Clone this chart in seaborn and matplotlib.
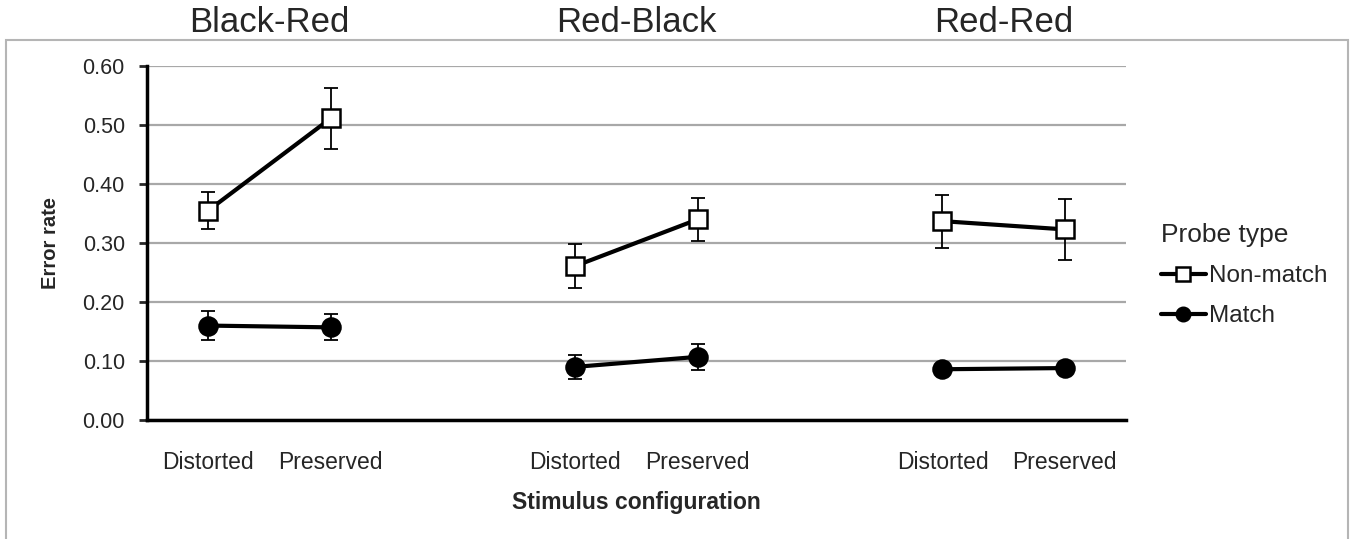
import numpy as np
import pandas as pd
import matplotlib
matplotlib.use("Agg")
import matplotlib.pyplot as plt
import matplotlib.transforms as mtransforms
from matplotlib.lines import Line2D
from matplotlib.patches import Rectangle
import seaborn as sns

# data
groups = ["Black-Red", "Red-Black", "Red-Red"]
conditions = ["Distorted", "Preserved"]
nonmatch_rate = [0.355, 0.511, 0.261, 0.340, 0.337, 0.323]
nonmatch_err = [0.031, 0.052, 0.037, 0.036, 0.045, 0.052]
match_rate = [0.160, 0.157, 0.090, 0.107, 0.086, 0.088]
match_err = [0.025, 0.022, 0.020, 0.022, 0.005, 0.010]
yticks = [0.0, 0.1, 0.2, 0.3, 0.4, 0.5, 0.6]

# x slots: two per group with one empty slot between groups
pos = []
for gi in range(len(groups)):
    for ci in range(len(conditions)):
        pos.append(gi * 3 + ci)

rows = []
for i, p in enumerate(pos):
    g = groups[i // 2]
    c = conditions[i % 2]
    rows.append(dict(group=g, cond=c, pos=p, probe="Non-match", rate=nonmatch_rate[i], err=nonmatch_err[i]))
    rows.append(dict(group=g, cond=c, pos=p, probe="Match", rate=match_rate[i], err=match_err[i]))
df = pd.DataFrame(rows)

sns.set_theme(style="white")
plt.rcParams["font.family"] = ["Liberation Sans", "DejaVu Sans"]

fig = plt.figure(figsize=(13.55, 5.39), dpi=100)
ax = fig.add_axes([0.1085, 0.2208, 0.7225, 0.6568])

styles = {
    "Non-match": dict(marker="s", markerfacecolor="white", markersize=12.5),
    "Match": dict(marker="o", markerfacecolor="black", markersize=13),
}

for probe in ["Match", "Non-match"]:
    for g in groups:
        sub = df[(df.probe == probe) & (df.group == g)]
        ax.errorbar(sub.pos, sub.rate, yerr=sub.err, fmt="none", ecolor="black",
                    elinewidth=1.3, capsize=5, capthick=1.3, zorder=2)
        sns.lineplot(data=sub, x="pos", y="rate", ax=ax, color="black", lw=3,
                     markeredgecolor="black", markeredgewidth=1.8, zorder=3,
                     legend=False, **styles[probe])

ax.set_xlim(-0.5, 7.5)
ax.set_ylim(0, 0.6)
ax.set_yticks(yticks)
ax.set_yticklabels([f"{v:.2f}" for v in yticks], fontsize=15.5)
ax.set_xticks(pos)
ax.set_xticklabels([conditions[i % 2] for i in range(len(pos))], fontsize=16.5)
ax.tick_params(axis="x", length=0, pad=22)
ax.tick_params(axis="y", length=6, width=2, direction="out", pad=10, left=True)
ax.yaxis.grid(True, color="#a8a8a8", lw=1.6)
ax.set_axisbelow(True)

for s in ["top", "right"]:
    ax.spines[s].set_visible(False)
for s in ["left", "bottom"]:
    ax.spines[s].set_color("black")
    ax.spines[s].set_linewidth(2.5)
ax.spines["bottom"].set_zorder(4)

ax.set_xlabel("Stimulus configuration", fontsize=16.5, fontweight="bold")
ax.xaxis.set_label_coords(0.5, -0.2)
ax.set_ylabel("Error rate", fontsize=14.5, fontweight="bold")
ax.yaxis.set_label_coords(-0.089, 0.5)

# group titles above
trans = mtransforms.blended_transform_factory(ax.transData, fig.transFigure)
for gi, g in enumerate(groups):
    ax.text(gi * 3 + 0.5, 0.958, g, transform=trans, ha="center", va="center", fontsize=25)

# legend
handles = [
    Line2D([], [], color="black", lw=3, marker="s", markerfacecolor="white",
           markeredgecolor="black", markeredgewidth=1.8, markersize=10.5),
    Line2D([], [], color="black", lw=3, marker="o", markerfacecolor="black",
           markeredgecolor="black", markersize=10.5),
]
leg = fig.legend(handles, ["Non-match", "Match"], title="Probe type",
                 loc="upper left", bbox_to_anchor=(0.8405, 0.627), frameon=False,
                 fontsize=17.5, title_fontsize=19, handlelength=1.85, handletextpad=0.15,
                 labelspacing=0.75, alignment="left")

# outer grey frame
fig.patches.append(Rectangle((0.0044, -0.01), 0.9904, 0.936, transform=fig.transFigure,
                             fill=False, edgecolor="#b5b5b5", lw=1.5))

fig.savefig("out.png", dpi=100)
